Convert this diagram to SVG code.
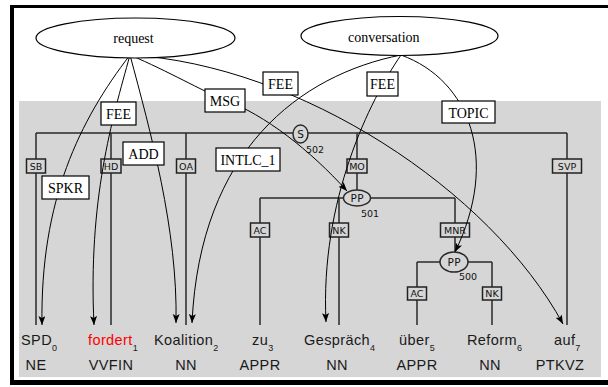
<svg xmlns="http://www.w3.org/2000/svg" width="608" height="387" viewBox="0 0 608 387">
<style>
.tl{stroke:#2a2a2a;stroke-width:1.5;fill:none}
.lb rect{fill:#d6d6d6;stroke:#222;stroke-width:1.5}
.lb text{font-family:"DejaVu Sans",sans-serif;font-size:9.5px;fill:#111;text-anchor:middle}
.nt ellipse{fill:#d6d6d6;stroke:#2a2a2a;stroke-width:1.5}
.nt text{font-family:"DejaVu Sans",sans-serif;font-size:9.5px;fill:#111}
.nt .c{text-anchor:middle;letter-spacing:0.5px;font-size:10.5px}
.tok{font-family:"Liberation Sans",Arial,sans-serif;font-size:14.5px;fill:#1a1a1a;letter-spacing:0.4px}
.sub{font-size:9px}
.pos{text-anchor:middle}
.ed{stroke:#000;stroke-width:1;fill:none;marker-end:url(#ah)}
.el rect{fill:#fff;stroke:#000;stroke-width:1.2}
.el text{font-family:"Liberation Serif","Times New Roman",serif;font-size:14px;fill:#000;text-anchor:middle}
.fr ellipse{fill:#fff;stroke:#000;stroke-width:1.2}
.fr text{font-family:"Liberation Serif","Times New Roman",serif;font-size:14px;fill:#000}
</style>
<defs>
<marker id="ah" markerUnits="userSpaceOnUse" markerWidth="10" markerHeight="8" refX="9" refY="3.5" orient="auto">
<path d="M0,0 L9,3.5 L0,7 L2,3.5 z" fill="#000"/>
</marker>
</defs>
<rect x="0" y="0" width="608" height="387" fill="#fff"/>
<rect x="19" y="101" width="582" height="276" fill="#d6d6d6"/>
<g id="frame-border" fill="#000">
<rect x="10" y="5" width="598" height="3"/>
<rect x="10" y="5" width="4" height="380"/>
<rect x="10" y="380" width="598" height="5"/>
</g>

<g id="connectors">
<g id="tree-edges">
<path class="tl" d="M36,133 H293 M308,133 H567"/>
<path class="tl" d="M36,133 V325 M111,133 V325 M186,133 V325 M567,133 V325 M357,133 V190"/>
<path class="tl" d="M260,198 H344 M370,198 H455"/>
<path class="tl" d="M260,198 V325 M339,198 V325 M455,198 V252"/>
<path class="tl" d="M417,262 H440 M468,262 H492"/>
<path class="tl" d="M417,262 V325 M492,262 V325"/>
<g class="lb">
<rect x="26.5" y="159" width="19" height="14"/><text x="36" y="169.5">SB</text>
<rect x="101" y="159" width="20" height="14"/><text x="111" y="169.5">HD</text>
<rect x="176.5" y="159" width="19" height="14"/><text x="186" y="169.5">OA</text>
<rect x="347" y="159" width="20" height="14"/><text x="357" y="169.5">MO</text>
<rect x="552.5" y="159" width="29" height="14"/><text x="567" y="169.5">SVP</text>
<rect x="250.5" y="223" width="19" height="14"/><text x="260" y="233.5">AC</text>
<rect x="329.5" y="223" width="19" height="14"/><text x="339" y="233.5">NK</text>
<rect x="440.5" y="223" width="29" height="14"/><text x="455" y="233.5">MNR</text>
<rect x="407.5" y="287" width="19" height="13"/><text x="417" y="297">AC</text>
<rect x="482.5" y="287" width="19" height="13"/><text x="492" y="297">NK</text>
</g>
</g>
<g id="frame-edges">
<path class="ed" d="M130,55 C80,120 40,200 42,325"/>
<path class="ed" d="M130,55 C112,120 88,200 94,325"/>
<path class="ed" d="M130,55 C150,130 178,230 176,323"/>
<path class="ed" d="M401,55 C300,75 200,150 192,323"/>
<path class="ed" d="M130,55 C170,72 200,90 225,100 C265,115 310,150 347,191"/>
<path class="ed" d="M130,55 C300,65 490,190 563,324"/>
<path class="ed" d="M401,55 C370,100 320,200 326,322"/>
<path class="ed" d="M401,55 C470,80 500,160 455,252"/>
<g class="el">
<rect x="263" y="72" width="35" height="23"/><text x="280.5" y="89">FEE</text>
<rect x="205" y="89" width="40" height="23"/><text x="225" y="106">MSG</text>
<rect x="101" y="102" width="35" height="23"/><text x="118.5" y="119">FEE</text>
<rect x="123" y="142" width="41" height="23"/><text x="143.5" y="159">ADD</text>
<rect x="42" y="176" width="47" height="23"/><text x="65.5" y="193">SPKR</text>
<rect x="216" y="148" width="64" height="23"/><text x="248" y="165">INTLC_1</text>
<rect x="367" y="72" width="31" height="24"/><text x="382.5" y="89">FEE</text>
<rect x="442" y="101" width="53" height="22"/><text x="468.5" y="118">TOPIC</text>
</g>
</g>
</g>

<g id="request" class="fr">
<ellipse cx="135.5" cy="38" rx="99.5" ry="20"/>
<text x="133.5" y="43" text-anchor="middle">request</text>
</g>
<g id="conversation" class="fr">
<ellipse cx="399.5" cy="36" rx="98.5" ry="19.5"/>
<text x="348" y="42">conversation</text>
</g>

<g id="node-S" class="nt">
<ellipse cx="300.5" cy="134" rx="7.5" ry="9"/>
<text class="c" x="300.8" y="138">S</text>
<text x="306" y="153">502</text>
</g>
<g id="node-PP501" class="nt">
<ellipse cx="357" cy="198" rx="13.5" ry="8"/>
<text class="c" x="357.3" y="202">PP</text>
<text x="361" y="217">501</text>
</g>
<g id="node-PP500" class="nt">
<ellipse cx="454" cy="262" rx="14" ry="10"/>
<text class="c" x="454.3" y="266">PP</text>
<text x="459" y="280">500</text>
</g>

<g id="tok-0"><text class="tok" x="21" y="345">SPD<tspan class="sub" dy="6">0</tspan></text><text class="tok pos" x="36" y="370">NE</text></g>
<g id="tok-1"><text class="tok" x="88" y="345"><tspan fill="#ff0000">fordert</tspan><tspan class="sub" dy="6">1</tspan></text><text class="tok pos" x="111" y="370">VVFIN</text></g>
<g id="tok-2"><text class="tok" x="154" y="345">Koalition<tspan class="sub" dy="6">2</tspan></text><text class="tok pos" x="186" y="370">NN</text></g>
<g id="tok-3"><text class="tok" x="252" y="345">zu<tspan class="sub" dy="6">3</tspan></text><text class="tok pos" x="260" y="370">APPR</text></g>
<g id="tok-4"><text class="tok" x="304" y="345">Gespräch<tspan class="sub" dy="6">4</tspan></text><text class="tok pos" x="337" y="370">NN</text></g>
<g id="tok-5"><text class="tok" x="399" y="345">über<tspan class="sub" dy="6">5</tspan></text><text class="tok pos" x="417" y="370">APPR</text></g>
<g id="tok-6"><text class="tok" x="467" y="345">Reform<tspan class="sub" dy="6">6</tspan></text><text class="tok pos" x="490" y="370">NN</text></g>
<g id="tok-7"><text class="tok" x="554" y="345">auf<tspan class="sub" dy="6">7</tspan></text><text class="tok pos" x="560" y="370">PTKVZ</text></g>
</svg>
